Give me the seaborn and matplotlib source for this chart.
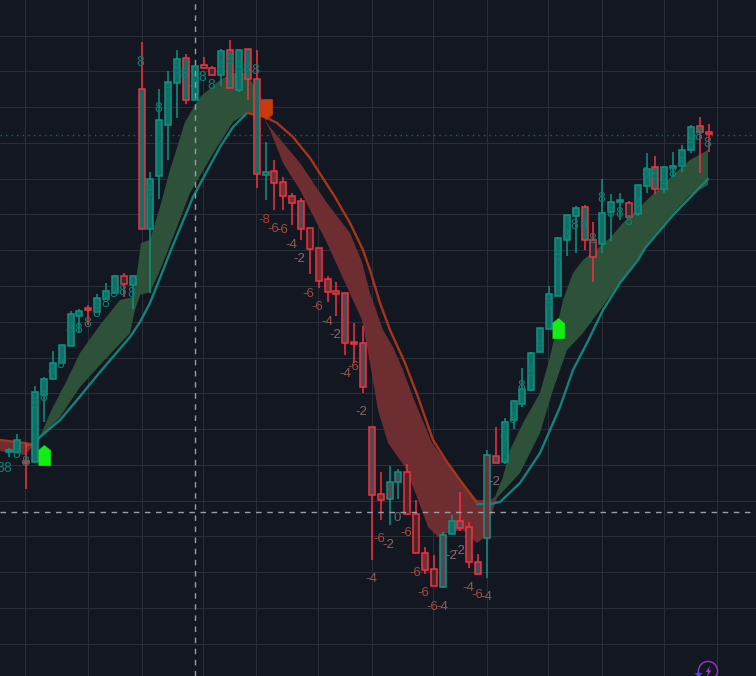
import numpy as np
import pandas as pd
import matplotlib
matplotlib.use("Agg")
import matplotlib.pyplot as plt
import seaborn as sns

BG = "#131722"
GRID = "#2a2e39"
UP = "#0e9384"
DOWN = "#f7303f"
TEAL_LINE = "#11837b"
RED_LINE = "#a8341a"
GREEN_BAND = "#2e5239"
RED_BAND = "#6e2e31"

# ---- candles: chart units on an inverted price axis -------------------------------
kinds = ["G","G","R","G","G","G","G","G","G","R","G","G","G","R","G","R","G","G","G","G",
         "R","G","R","R","G","R","G","R","R","G","R","R","R","R","R","R","R","R","R","R",
         "R","R","R","G","G","R","R","R","R","G","G","R","R","R","G","R","G","G","G","G",
         "G","G","G","G","G","R","R","G","G","G","R","G","G","R","G","G","G","G","R","R"]
body_top = [450,440,461,392,379,363,345,314,311,308,298,291,276,276,276,89,179,120,82,59,
            58,66,65,68,51,50,50,49,79,172,171,182,196,201,228,248,279,291,293,342,
            343,427,494,482,472,472,514,553,569,535,521,521,527,562,455,456,422,401,389,353,
            328,294,238,215,208,207,240,213,202,200,203,185,169,167,167,166,150,127,126,132]
body_bottom = [452,452,463,462,395,379,363,346,316,310,312,299,293,284,285,229,229,176,125,83,
               100,100,68,75,75,88,90,79,174,175,183,196,203,229,249,281,292,294,343,344,
               387,495,500,499,482,514,553,570,586,587,534,528,562,574,538,463,462,420,404,390,
               352,329,296,240,216,240,257,244,212,202,217,214,186,189,189,168,166,150,132,134]
wick_high = [448,434,443,386,377,351,345,311,309,305,294,283,275,273,275,42,172,89,71,50,
             54,66,57,66,49,40,49,49,50,142,160,177,193,198,228,248,276,282,293,323,
             326,427,472,466,469,464,500,547,555,532,515,492,522,554,450,427,418,400,368,352,
             328,286,237,215,206,205,222,179,194,193,201,185,153,156,167,152,145,125,117,124]
wick_low = [457,452,489,462,422,379,363,346,333,325,312,299,293,297,309,229,293,199,160,118,
            104,100,68,75,86,88,92,100,188,200,210,210,225,240,274,288,302,316,355,363,
            393,560,520,525,499,514,553,574,586,588,534,531,568,575,578,463,464,429,407,391,
            352,329,296,256,253,250,282,253,241,220,217,216,193,194,193,177,172,153,173,152]
fills = list("tttttttttttttdt" "tttttttddttttt" "bbbbghbbbgbg"
             "gbgshhbhgtgbsbs" "tttttttttt" "d" "ttt" "d" "ttttttt" "t" "d")
FILL = {"t": "#136e65", "d": "#24303a", "b": "#6d3338", "g": "#574850", "s": "#464c56", "h": "#4f2429"}

# ---- moving-average lines and bands ---------------------------------------------
teal_a_x = [26,34,40,60,77,100,130,140,150,160,171,193,220,233,247]
teal_a_y = [445,444,437,420,400,372,337,322,303,278,250,197,147,127,113]
teal_b_x = [477,490,500,520,540,550,560,573,587,603,620,638,645,673,708]
teal_b_y = [504,504,502,483,453,430,407,370,343,310,283,260,248,215,179]
red_a_x = [0,25,34]
red_a_y = [440,443,445]
red_b_x = [247,265,277,293,310,335,350,363,370,380,390,405,418,433,447,460,477]
red_b_y = [113,117,123,137,158,197,223,250,270,303,330,363,397,440,462,480,503]

g1_up_x = [40,50,67,80,100,120,133,137,141,150,160,170,185,200,220,233,247,256,262]
g1_up_y = [437,413,380,353,325,300,297,273,243,240,207,170,122,97,80,73,73,90,114]
g1_lo_x = [40,60,80,100,130,135,140,150,158,168,190,217,233,247,262]
g1_lo_y = [437,417,387,365,333,310,295,292,275,250,193,147,122,113,114]

r0_up_x = [0,25,34]
r0_up_y = [440,443,445]
r0_lo_x = [0,25,34]
r0_lo_y = [451,455,445]

r1_up_x = [263,270,300,327,350,362,370,383,393,403,413,432,447,460,477,490,498]
r1_up_y = [117,127,163,203,233,262,293,330,347,370,397,443,463,480,500,500,495]
r1_lo_x = [263,270,283,300,327,362,370,378,388,405,417,428,438,447,463,477,485,493,498]
r1_lo_y = [117,130,163,190,243,320,363,410,443,467,497,527,537,533,530,543,537,510,495]

g2_up_x = [495,503,510,523,540,550,563,573,583,592,610,623,647,673,690,708]
g2_up_y = [497,477,450,423,393,357,300,273,260,253,238,223,200,175,160,150]
g2_lo_x = [495,520,540,553,567,583,600,620,638,645,673,690,708]
g2_lo_y = [500,473,433,390,350,333,310,282,258,246,213,195,185]

# ---- candle annotations ----------------------------------------------------------
up_lab_x = [0,7,16,25,34,43,51,60,69,78,87,96,105,113,122,131,140,149,158,167,176,184,193,202,211,220,
            229,238,246,255,503,512,521,530,539,548,557,565,574,583,592,601,610,619,628,636,645,654,663,
            672,681,690,698,707]
up_lab_y = [468,468,454,462,404,397,370,364,329,329,323,313,303,293,291,293,62,191,108,89,69,74,85,77,85,68,
            60,68,68,70,437,419,386,372,347,304,256,235,225,225,239,198,213,213,221,203,173,175,185,
            173,163,144,136,143]
up_lab_t = ["8"] * 54
up_lab_t[30] = "6"

dn_lab_x = [264,273,282,291,299,308,317,327,335,353,345,361,371,379,388,397,406,415,423,432,442,451,459,468,477,486,494]
dn_lab_y = [220,229,230,245,259,294,307,322,335,367,374,412,579,539,545,518,533,573,593,607,607,556,551,588,595,597,482]
dn_lab_v = [-8,-6,-6,-4,-2,-6,-6,-4,-2,-6,-4,-2,-4,-6,-2,0,-6,-6,-6,-6,-4,-2,-2,-4,-6,-4,-2]
DN_COL = {-8: "#b03a22", -6: "#a54a38", -4: "#8e5a4f", -2: "#866a6a", 0: "#666c7c"}

# ---- signal marks ----------------------------------------------------------------
buy_x = [43.5, 557.5]
buy_y = [455, 328]
sell_x = [265.5]
sell_y = [109]

v_grid = [25,88,141.5,203,256,318,371.5,433,486.5,548,602,664,717]
h_grid = [35.5,71.3,107,142.8,178.6,214.4,250.2,286,321.7,357.5,393.3,429,464.8,500.6,536.4,572.2,608,643.7]
cross_x = 194.5
cross_y = 511.5
last_price = 134.5

# ---- figure ----------------------------------------------------------------------
sns.set_theme(style="dark", rc={"axes.facecolor": BG, "figure.facecolor": BG})
plt.rcParams["font.family"] = ["Liberation Sans", "DejaVu Sans"]
fig = plt.figure(figsize=(7.56, 6.76), dpi=100)
ax = fig.add_axes([0, 0, 1, 1])
ax.set_xlim(0, 756)
ax.set_ylim(676, 0)
ax.set_xticks(v_grid)
ax.set_yticks(h_grid)
ax.tick_params(length=0, labelbottom=False, labelleft=False)
ax.grid(True, color=GRID, lw=0.72)
ax.set_axisbelow(True)
for s in ax.spines.values():
    s.set_visible(False)

ax.axhline(last_price, color="#0f6a62", lw=1.0, ls=(0, (1, 3)), zorder=1.5)

for xu, yu, xl, yl, col in [(r0_up_x, r0_up_y, r0_lo_x, r0_lo_y, RED_BAND),
                            (g1_up_x, g1_up_y, g1_lo_x, g1_lo_y, GREEN_BAND),
                            (r1_up_x, r1_up_y, r1_lo_x, r1_lo_y, RED_BAND),
                            (g2_up_x, g2_up_y, g2_lo_x, g2_lo_y, GREEN_BAND)]:
    ax.fill(np.r_[xu, xl[::-1]], np.r_[yu, yl[::-1]], color=col, lw=0, zorder=2)

for xs, ys, col in [(teal_a_x, teal_a_y, TEAL_LINE), (teal_b_x, teal_b_y, TEAL_LINE),
                    (red_a_x, red_a_y, RED_LINE), (red_b_x, red_b_y, RED_LINE)]:
    sns.lineplot(x=xs, y=ys, color=col, linewidth=1.7, sort=False, estimator=None, ax=ax, zorder=3)
ax.set_xlabel("")
ax.set_ylabel("")

n = len(kinds)
t = 141.5 + 8.86 * (np.arange(n) - 15)
candles = pd.DataFrame({"t": t, "kind": kinds, "top": body_top, "bottom": body_bottom,
                        "high": wick_high, "low": wick_low, "fill": fills})
for _, c in candles.iterrows():
    edge = UP if c["kind"] == "G" else DOWN
    ax.vlines(c["t"], c["high"], c["low"], color=edge, lw=1.1, zorder=4)
    ax.bar(c["t"], c["bottom"] - c["top"], bottom=c["top"], width=6.0,
           facecolor=FILL[c["fill"]], edgecolor=edge, lw=1.1, zorder=5)

for x, y, s in zip(up_lab_x, up_lab_y, up_lab_t):
    ax.text(x, y, s, color="#0c8072", fontsize=10, ha="center", va="center", zorder=6)
for x, y, v in zip(dn_lab_x, dn_lab_y, dn_lab_v):
    ax.text(x, y, str(v), color=DN_COL[v], fontsize=9.5, ha="center", va="center", zorder=6)

house_up = [(-0.6, -1), (0.6, -1), (0.6, 0.5), (0, 1), (-0.6, 0.5)]
house_dn = [(-0.6, 1), (0.6, 1), (0.6, -0.5), (0, -1), (-0.6, -0.5)]
ax.scatter(buy_x, buy_y, marker=house_up, s=205, color="#12ee12", lw=0.5, zorder=7)
ax.scatter(sell_x, sell_y, marker=house_dn, s=205, color="#c93a0e", lw=0.5, zorder=7)

ax.axvline(cross_x, color="#9a9ea8", lw=1.0, ls=(0, (4, 4)), zorder=8)
ax.axhline(cross_y, color="#9a9ea8", lw=1.0, ls=(0, (4, 4)), zorder=8)

bolt = [(0.3, 1), (-0.5, -0.1), (-0.05, -0.1), (-0.3, -1), (0.5, 0.2), (0.05, 0.2)]
ax.scatter([708], [671], s=190, facecolors="none", edgecolors="#8d34b8", lw=1.1, zorder=9)
ax.scatter([708], [671], s=70, marker=bolt, color="#a23cc8", lw=0, zorder=9)
ax.scatter([698], [674], s=42, marker="*", color="#5b3df0", lw=0, zorder=9)

fig.savefig("out.png", dpi=100, facecolor=BG)
